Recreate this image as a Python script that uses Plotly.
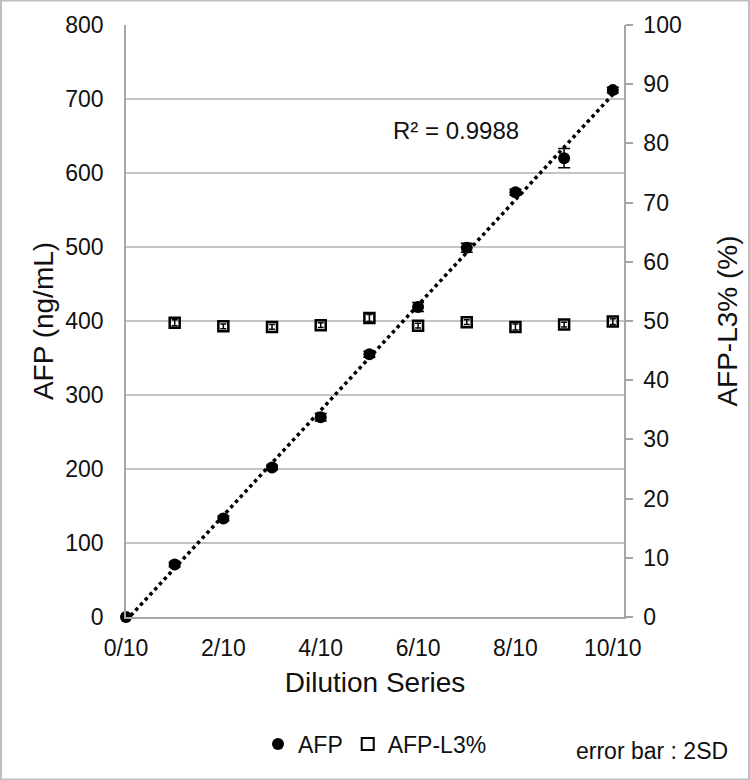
import numpy as np
import plotly.graph_objects as go

dilution = [0, 1, 2, 3, 4, 5, 6, 7, 8, 9, 10]
afp = [0, 71, 133, 202, 270, 355, 419, 499, 574, 620, 712]
afp_err = [1, 3, 3, 3, 5, 4, 6, 6, 4, 13, 4]
l3_x = [1, 2, 3, 4, 5, 6, 7, 8, 9, 10]
l3 = [49.7, 49.1, 49.0, 49.3, 50.5, 49.2, 49.8, 49.0, 49.4, 49.9]
l3_err = [0.5, 0.4, 0.4, 0.4, 0.6, 0.4, 0.4, 0.5, 0.4, 0.5]
xtick_vals = [0, 2, 4, 6, 8, 10]
xtick_text = ["0/10", "2/10", "4/10", "6/10", "8/10", "10/10"]

FONT = "Liberation Sans, Arial, sans-serif"
FS = 23
TXT = "#111"

slope, icpt = np.polyfit(dilution, afp, 1)
fit_x = [0, 10]
fit_y = [icpt + slope * v for v in fit_x]

fig = go.Figure()
fig.add_trace(go.Scatter(
    x=fit_x, y=fit_y, mode="lines", cliponaxis=False,
    line=dict(color="black", width=3.5, dash="dot"),
    showlegend=False, hoverinfo="skip"))
fig.add_trace(go.Scatter(
    x=dilution, y=afp, mode="markers", name="AFP", cliponaxis=False,
    marker=dict(symbol="circle", size=12, color="black"),
    error_y=dict(type="data", array=afp_err, color="black", thickness=1.5, width=6)))
fig.add_trace(go.Scatter(
    x=l3_x, y=l3, mode="markers", name="AFP-L3%", yaxis="y2", cliponaxis=False,
    marker=dict(symbol="square-open", size=10, color="black", line=dict(width=2.5)),
    error_y=dict(type="data", array=l3_err, color="black", thickness=1.5, width=3)))

fig.add_annotation(x=6.78, y=658, text="R² = 0.9988", showarrow=False,
                   font=dict(family=FONT, size=24, color=TXT), xanchor="center", yanchor="middle")
fig.add_annotation(xref="paper", yref="paper", x=1.213, y=-0.2264, text="error bar : 2SD",
                   showarrow=False, font=dict(family=FONT, size=FS, color=TXT),
                   xanchor="right", yanchor="middle")

fig.update_layout(
    width=750, height=780,
    margin=dict(l=126, r=126, t=25, b=163),
    paper_bgcolor="white", plot_bgcolor="white",
    font=dict(family=FONT, size=FS, color=TXT),
    xaxis=dict(range=[0, 10.23], tickvals=xtick_vals, ticktext=xtick_text,
               showgrid=False, showline=True, linecolor="#a6a6a6", linewidth=1.5,
               zeroline=False, ticks="", ticklabelstandoff=10,
               title=dict(text="Dilution Series", standoff=12)),
    yaxis=dict(range=[0, 800], dtick=100, showgrid=True, gridcolor="#c4c4c4", gridwidth=1.5,
               showline=True, linecolor="#a6a6a6", linewidth=1.5, zeroline=False, ticks="",
               ticklabelstandoff=16,
               title=dict(text="AFP (ng/mL)", standoff=3)),
    yaxis2=dict(range=[0, 100], dtick=10, overlaying="y", side="right", showgrid=False,
                showline=True, linecolor="#a6a6a6", linewidth=1.5, zeroline=False,
                ticks="outside", ticklen=7, tickcolor="#a6a6a6", tickwidth=1.5,
                ticklabelstandoff=6,
                title=dict(text="AFP-L3% (%)", standoff=37)),
    legend=dict(orientation="h", x=0.5, y=-0.2145, xanchor="center", yanchor="middle",
                font=dict(family=FONT, size=FS), itemsizing="constant", itemwidth=30,
                bgcolor="rgba(0,0,0,0)"),
    shapes=[dict(type="rect", xref="paper", yref="paper", x0=-0.251, x1=1.251,
                 y0=-0.2745, y1=1.0415, line=dict(color="#bfbfbf", width=2))],
)

fig.write_html("out.html")
